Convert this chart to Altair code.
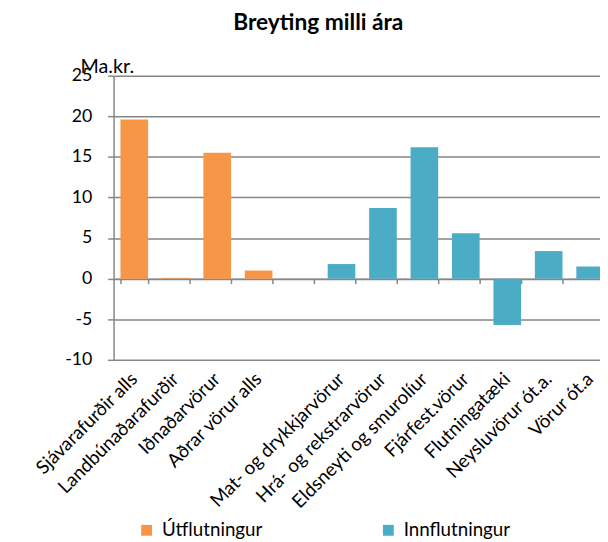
import altair as alt
import pandas as pd

categories = ["Sjávarafurðir alls", "Landbúnaðarafurðir", "Iðnaðarvörur", "Aðrar vörur alls", " ",
              "Mat- og drykkjarvörur", "Hrá- og rekstrarvörur", "Eldsneyti og smurolíur",
              "Fjárfest.vörur", "Flutningatæki", "Neysluvörur ót.a.", "Vörur ót.a"]
values = [19.6, 0.1, 15.5, 1.0, None, 1.8, 8.7, 16.2, 5.6, -5.7, 3.4, 1.5]
groups = ["Útflutningur"] * 4 + [None] + ["Innflutningur"] * 7
series = ["Útflutningur", "Innflutningur"]
colors = ["#F79646", "#4BACC6"]
y_ticks = [-10, -5, 0, 5, 10, 15, 20, 25]

rows = [{"cat": c, "val": v, "grp": g} for c, v, g in zip(categories, values, groups) if v is not None]
df = pd.DataFrame(rows)

FONT = "Lato"
GRAY = "#868686"
PLOT_H = 288
zero_offset = -PLOT_H * 10 / 35

xscale = alt.Scale(domain=categories, range=[0, 504], paddingInner=1 / 3, paddingOuter=1 / 6)
yscale = alt.Scale(domain=[-10, 25], nice=False)

bars = alt.Chart(df).mark_bar().encode(
    x=alt.X("cat:N", scale=xscale, sort=categories,
            axis=alt.Axis(title=None, domain=False, ticks=False, labelAngle=-45,
                          labelAlign="right", labelBaseline="middle", labelPadding=16,
                          labelFont=FONT, labelFontSize=19, labelColor="#000", labelLimit=300)),
    y=alt.Y("val:Q", scale=yscale,
            axis=alt.Axis(values=y_ticks, grid=True, gridColor=GRAY, gridWidth=1.5,
                          domainColor=GRAY, domainWidth=1.5, tickColor=GRAY, tickWidth=1.5,
                          tickSize=6, labelPadding=16, labelFont=FONT, labelFontSize=18,
                          labelExpr="'' + datum.value",
                          labelColor="#000", title="Ma.kr.", titleAngle=0, titleAlign="left",
                          titleBaseline="alphabetic", titleX=-34, titleY=-3, titleFont=FONT,
                          titleFontSize=20, titleFontWeight="normal", titleColor="#000")),
    color=alt.Color("grp:N", scale=alt.Scale(domain=series, range=colors),
                    legend=alt.Legend(title=None, orient="none", legendX=24, legendY=451,
                                      direction="horizontal", symbolType="square",
                                      symbolSize=121, symbolStrokeWidth=0, labelFont=FONT,
                                      labelFontSize=19, labelColor="#000", columnPadding=118,
                                      labelOffset=6)),
)

zero_axis = alt.Chart(df).mark_bar(opacity=0).encode(
    x=alt.X("cat:N", scale=xscale, sort=categories,
            axis=alt.Axis(title=None, orient="bottom", offset=zero_offset, labels=False,
                          domain=True, domainColor=GRAY, domainWidth=1.5, ticks=True,
                          tickBand="extent", tickSize=5, tickColor=GRAY, tickWidth=1.5)),
    y=alt.Y("val:Q", scale=yscale, axis=None),
)

chart = alt.layer(bars, zero_axis).resolve_axis(x="independent", y="independent").properties(
    width=493, height=PLOT_H,
    autosize=alt.AutoSizeParams(type="none"),
    padding={"left": 107, "top": 65, "right": 0, "bottom": 181},
    title=alt.TitleParams("Breyting milli ára", font=FONT, fontSize=23, fontWeight="bold",
                          color="#000", anchor="middle", dx=-39, offset=22),
).configure_view(stroke=None)

chart.save("out.html", embed_options={"renderer": "svg", "actions": False})
